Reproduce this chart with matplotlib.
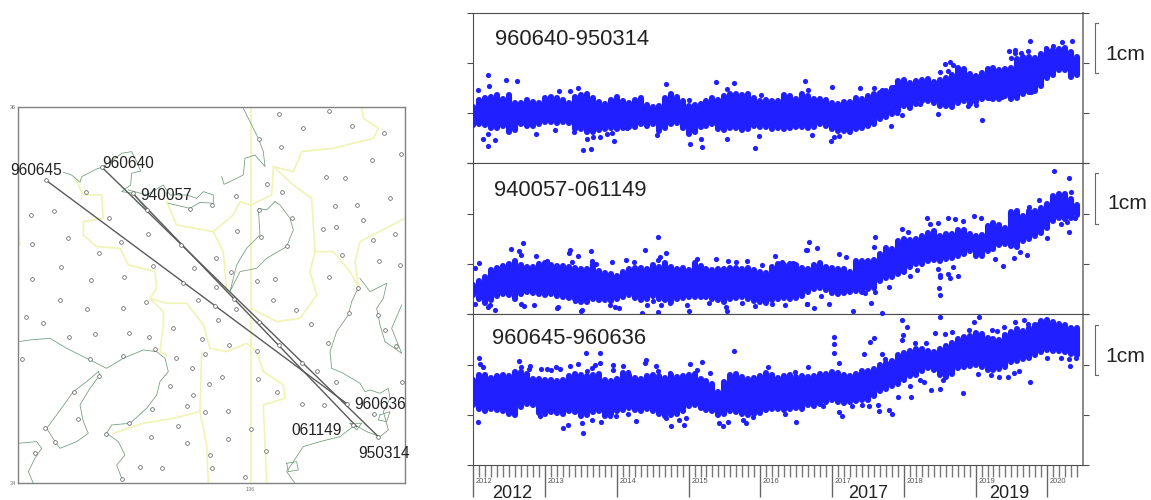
import numpy as np
import matplotlib
matplotlib.use('Agg')
import matplotlib.pyplot as plt

plt.rcParams['font.family'] = ['Liberation Sans', 'DejaVu Sans']

W = 1151
H = 500
BLUE = '#1f1fff'
DARK = '#222222'
AXC = '#4d4d4d'

# ---- time series: cm above the bottom of each panel
# one value per month from 2012.0, top and bottom of the dense band
top1 = [1.13,1.27,1.30,1.33,1.36,1.28,1.36,1.20,1.20,1.27,1.22,1.20,1.31,1.33,1.30,1.27,1.20,1.32,1.36,1.39,
        1.30,1.22,1.18,1.27,1.32,1.24,1.20,1.26,1.30,1.17,1.12,1.15,1.30,1.39,1.32,1.25,1.15,1.17,1.18,1.25,
        1.30,1.27,1.35,1.38,1.38,1.36,1.38,1.30,1.25,1.27,1.25,1.25,1.36,1.35,1.28,1.38,1.35,1.29,1.28,1.27,
        1.20,1.18,1.22,1.22,1.30,1.28,1.35,1.38,1.40,1.45,1.50,1.65,1.67,1.60,1.65,1.67,1.68,1.62,1.66,1.70,
        1.75,1.90,1.88,1.78,1.73,1.80,1.88,1.90,1.85,1.88,1.90,2.08,2.12,2.12,2.10,2.18,2.25,2.25,2.28,2.30,
        2.22,2.12]
bot1 = [.76,.78,.76,.70,.70,.74,.63,.66,.78,.74,.74,.78,.82,.83,.80,.83,.80,.68,.68,.62,
        .62,.66,.68,.70,.68,.70,.72,.72,.78,.75,.78,.64,.70,.78,.80,.70,.58,.62,.72,.74,
        .78,.68,.66,.70,.70,.66,.68,.75,.72,.72,.68,.70,.68,.70,.72,.72,.70,.72,.78,.75,
        .68,.65,.64,.62,.68,.70,.74,.78,.88,.92,.98,1.05,1.15,1.10,1.18,1.25,1.25,1.20,1.15,1.15,
        1.12,1.20,1.25,1.18,1.22,1.28,1.30,1.28,1.28,1.35,1.28,1.30,1.38,1.42,1.45,1.55,1.70,1.75,1.85,1.85,
        1.72,1.75]
top2 = [.58,.66,.75,.88,.93,.96,1.00,1.05,.98,.95,.95,1.00,1.01,.98,.97,.96,.95,.92,.90,.90,
        1.00,.86,.82,.80,.76,.84,.90,.92,.93,.90,.98,.95,1.02,.95,.90,.93,.88,1.02,.96,.90,
        .88,.90,.91,.93,.92,.90,.92,.88,.85,.82,.95,1.00,.98,1.00,.98,.92,.90,.98,1.01,.95,
        .92,.90,.90,.85,1.05,1.06,1.05,1.08,1.20,1.32,1.30,1.45,1.50,1.48,1.50,1.55,1.62,1.65,1.55,1.60,
        1.60,1.68,1.68,1.60,1.55,1.58,1.75,1.82,1.78,1.72,2.03,2.05,1.95,2.05,2.05,2.12,2.20,2.35,2.40,2.40,
        2.30,2.18]
bot2 = [.38,.30,.22,.28,.36,.40,.38,.30,.40,.45,.42,.40,.38,.40,.36,.35,.32,.30,.25,.24,
        .30,.28,.28,.26,.30,.34,.38,.32,.28,.30,.36,.30,.28,.25,.30,.33,.35,.34,.35,.35,
        .30,.28,.25,.30,.33,.35,.30,.26,.24,.22,.28,.30,.32,.30,.33,.36,.45,.50,.52,.48,
        .42,.40,.42,.45,.46,.44,.50,.52,.66,.72,.75,.80,.85,.95,1.00,1.00,1.05,1.08,1.06,1.10,
        1.12,1.15,1.20,1.25,1.15,1.15,1.25,1.30,1.38,1.40,1.36,1.34,1.45,1.50,1.55,1.62,1.72,1.85,1.92,1.90,
        1.92,1.97]
top3 = [1.70,1.80,1.80,1.74,1.78,1.80,1.78,1.85,1.86,1.82,1.72,1.72,1.70,1.70,1.68,1.70,1.78,1.82,1.80,1.78,
        1.80,1.82,1.70,1.68,1.72,1.84,1.80,1.74,1.72,1.78,1.80,1.78,1.74,1.80,1.76,1.78,1.80,1.82,1.72,1.68,
        1.62,1.46,1.66,1.80,1.82,1.76,1.72,1.74,1.78,1.84,1.80,1.74,1.78,1.80,1.76,1.78,1.76,1.78,1.82,1.82,
        1.86,1.84,1.80,1.78,1.82,1.88,1.88,1.92,2.00,2.04,2.08,2.18,2.22,2.26,2.30,2.30,2.26,2.24,2.30,2.36,
        2.42,2.50,2.54,2.56,2.62,2.60,2.52,2.50,2.48,2.58,2.64,2.70,2.66,2.72,2.78,2.86,2.88,2.85,2.80,2.78,
        2.72,2.72]
bot3 = [1.20,1.12,1.08,1.12,1.10,1.08,1.02,1.00,1.15,1.22,1.20,1.04,1.02,1.06,1.04,1.02,1.08,1.06,.98,1.00,
        1.06,1.08,.98,1.02,1.08,1.10,1.14,1.10,1.08,1.12,1.08,1.02,.98,1.00,1.02,1.08,1.18,1.20,1.14,1.10,
        1.08,1.00,1.02,1.08,1.06,1.02,1.00,1.02,1.04,1.10,1.12,1.12,1.10,1.12,1.14,1.12,1.20,1.18,1.22,1.26,
        1.30,1.25,1.24,1.26,1.28,1.30,1.30,1.38,1.48,1.52,1.58,1.62,1.70,1.78,1.80,1.88,1.94,1.90,1.80,1.76,
        1.82,1.94,1.96,1.98,2.00,1.96,1.90,1.90,1.92,1.96,2.06,2.08,2.12,2.14,2.18,2.24,2.28,2.26,2.26,2.24,
        2.20,2.19]

# single points that stick out of the band
out1_t = [2012.21,2012.22,2012.06,2012.46,2012.61,2013.19,2013.35,2013.46,2012.13,2012.20,2012.21,2012.30,2012.87,2013.14,
          2013.40,2013.53,2013.64,2013.58,2013.67,2013.77,2013.86,2013.96,2013.93,2014.69,2015.02,2015.18,2015.19,2015.53,
          2015.92,2015.98,2015.38,2015.54,2015.64,2015.01,2016.62,2016.67,2016.01,2014.56,2014.14,2017.00,2017.39,2017.59,
          2017.69,2017.86,2017.91,2016.72,2016.99,2017.09,2017.03,2017.82,2017.98,2018.47,2019.09,2018.51,2018.57,2018.64,
          2018.69,2018.61,2019.47,2019.55,2019.64,2019.73,2019.76,2019.49,2019.55,2019.98,2020.08,2020.21,2020.34,2019.77,
          2019.37,2018.89,2019.00,2019.19,2018.95,2018.22,2017.90,2017.41,2020.31]
out1_v = [1.75,1.54,1.46,1.66,1.65,1.44,1.45,1.51,.48,.35,.58,.46,.58,.66,
          .63,.27,.29,.48,.52,.52,.58,.44,.61,1.59,.38,.49,.33,.48,
          .31,.54,1.62,1.49,1.60,1.27,1.65,1.47,1.37,.56,.70,1.53,1.51,1.51,
          1.47,1.53,1.65,.56,.45,.54,.52,.75,.97,.98,.86,1.82,1.98,2.01,
          1.96,1.84,2.24,2.26,2.20,2.24,2.44,2.10,2.19,2.29,2.34,2.42,2.44,1.43,
          1.32,1.15,1.17,1.30,1.29,1.19,1.01,.73,1.78]

out2_t = [2012.53,2012.64,2012.69,2012.66,2012.08,2012.02,2012.88,2013.03,2013.33,2013.35,2013.46,2013.64,2013.65,2013.71,
          2013.38,2013.94,2014.13,2014.24,2014.39,2014.58,2014.68,2014.60,2014.58,2015.12,2015.38,2015.55,2015.66,2015.82,
          2016.02,2016.21,2016.30,2016.65,2016.68,2016.46,2012.02,2012.20,2012.30,2012.23,2012.66,2012.71,2012.84,2013.18,
          2013.16,2013.51,2013.50,2013.42,2013.91,2013.97,2014.03,2014.35,2014.50,2014.42,2014.58,2014.62,2014.74,2015.01,
          2014.98,2015.28,2015.53,2015.52,2015.74,2015.93,2016.16,2016.34,2016.65,2016.64,2016.79,2017.09,2017.20,2017.60,
          2017.58,2017.98,2018.06,2018.33,2018.36,2018.47,2018.62,2018.72,2018.82,2018.98,2019.07,2020.10,2020.30,2020.33,
          2019.75,2019.88,2016.65,2016.75,2016.96,2016.85,2017.54,2017.60,2017.46,2017.80,2017.97,2018.08,2018.19,2018.48,
          2018.50,2018.51,2018.49,2018.50,2018.62,2018.64,2018.75,2018.68,2019.38,2019.53,2019.27,2019.72,2019.62,2019.99,
          2020.30,2020.19,2020.27,2020.39]
out2_v = [1.30,1.26,1.42,1.18,1.01,.93,1.16,1.05,1.21,1.28,1.16,1.25,1.05,1.00,
          1.04,1.04,1.08,1.04,1.27,1.53,1.22,1.13,1.08,1.09,1.10,1.05,1.03,1.05,
          .98,1.16,1.03,1.28,1.44,1.01,.21,.15,.09,.19,.21,.17,.19,.15,
          .12,.09,.06,.26,.18,.14,.13,.02,.26,.19,.04,.19,.22,.07,
          .19,.22,.07,.15,.22,.17,.21,.18,.21,1.27,1.31,1.19,1.13,1.54,
          1.34,1.69,1.64,1.92,1.79,1.81,1.92,1.89,1.85,1.95,1.92,2.85,2.70,2.43,
          2.13,2.27,.21,.13,.21,.36,.23,.44,.42,.54,.88,.77,.89,.91,
          .78,.74,.52,.39,.81,.72,.77,.95,.96,1.11,1.09,1.18,1.23,1.51,
          1.63,1.79,1.83,1.91]

out3_t = [2012.08,2012.10,2012.13,2012.63,2012.66,2012.79,2012.77,2012.94,2013.03,2013.08,2013.15,2013.21,2013.35,2013.46,
          2013.57,2013.59,2013.65,2013.70,2013.76,2013.77,2013.95,2013.95,2014.08,2014.16,2014.41,2014.39,2014.54,2014.58,
          2014.74,2015.02,2015.12,2015.19,2015.30,2015.64,2016.11,2016.48,2016.67,2012.06,2013.25,2013.32,2013.51,2013.53,
          2013.65,2013.78,2013.91,2013.99,2014.15,2014.27,2014.69,2014.76,2014.86,2014.93,2014.97,2015.42,2015.48,2015.55,
          2015.76,2015.80,2016.34,2016.50,2015.90,2012.93,2017.03,2017.03,2017.03,2017.09,2017.45,2017.53,2017.59,2017.69,
          2017.74,2017.84,2017.98,2018.05,2017.99,2017.98,2018.16,2018.31,2018.43,2018.57,2018.67,2018.51,2019.05,2018.98,
          2018.91,2019.23,2019.30,2019.40,2019.55,2019.67,2019.73,2019.87,2017.29,2017.69,2017.09,2017.14,2016.88,2017.28,
          2017.42,2017.51,2017.65,2017.64,2017.80,2017.84,2017.92,2018.10,2018.08,2018.38,2018.51,2018.82,2018.22,2018.28,
          2018.55,2019.04,2019.22,2019.32,2019.45,2019.54,2019.61,2019.76,2020.00,2020.19,2020.30,2020.31,2020.40]
out3_v = [2.13,2.01,1.96,2.07,1.96,1.98,1.91,1.92,1.91,1.89,1.95,1.92,1.97,2.02,
          2.23,1.87,1.93,1.99,2.04,2.22,1.99,1.89,1.97,1.86,2.09,2.04,1.98,1.87,
          1.84,2.01,1.89,2.06,1.84,2.26,1.96,1.85,1.96,.86,.74,.80,.83,.63,
          .89,.86,.98,.97,1.01,.87,.93,.77,.89,.79,.93,.83,.78,.86,
          .90,.83,1.01,.85,.95,.97,2.54,2.41,2.23,2.04,2.21,2.44,2.52,2.21,
          2.11,2.08,2.89,2.74,2.59,2.48,2.42,2.42,2.62,2.61,2.64,2.95,2.94,2.84,
          2.69,2.69,2.67,2.74,2.85,2.89,2.81,2.80,3.07,3.03,1.05,.98,1.17,1.18,
          1.19,1.17,1.08,1.20,1.10,1.02,1.36,1.36,1.58,1.49,1.51,1.44,1.70,1.66,
          1.70,1.81,1.79,1.75,1.75,1.83,1.88,1.66,2.14,2.13,2.11,1.97,2.14]

pair_names = ['960640-950314', '940057-061149', '960645-960636']
years = [2012, 2013, 2014, 2015, 2016, 2017, 2018, 2019, 2020]
big_years = [2012, 2017, 2019]
big_year_pos = [2012.26, 2017.22, 2019.19]

# ---- map in map units
station_x = [838,987,908,1056,1153,844,777,1204,1115,979,1036,801,845,708,1169,257,162,94,327,636,571,441,1005,1071,777,875,
             1089,970,1007,711,445,1184,204,97,363,782,1118,543,860,297,647,1027,1137,1200,182,458,581,692,96,274,372,549,
             771,826,986,647,1075,179,439,595,703,262,370,645,708,819,888,1048,1135,77,129,653,777,933,520,1154,286,387,
             208,447,606,688,838,984,1187,464,770,615,65,270,368,529,905,950,575,1008,297,667,775,1207,511,627,223,831,
             579,907,971,1042,457,560,615,683,1122,233,388,534,753,1060,318,454,684,135,165,561,105,797,631,421,486,636,
             735,365,1135,137,306,398]
station_y = [57,47,100,93,114,156,131,177,194,247,249,266,291,304,309,292,347,359,368,329,343,345,333,330,344,369,
             376,403,397,407,416,418,429,446,441,425,436,450,453,473,489,479,499,511,515,514,518,530,553,555,547,563,
             558,553,546,577,578,616,620,614,612,643,638,633,641,615,644,655,660,665,683,674,680,688,698,706,716,713,
             727,725,733,750,751,743,752,762,768,776,792,793,783,788,804,829,820,862,843,846,851,860,873,867,891,890,
             900,926,930,927,941,932,950,947,957,972,983,993,1002,990,1017,1025,1031,1000,1042,1043,1073,1068,1080,1115,1120,1120,
             1146,1153,1025,255,217,295]

coast_lines = [
    [(190,232),(215,240),(240,262),(245,245),(265,235),(290,222),(306,217),(340,195),(365,175),(395,170),(410,200),(422,228),(395,235),(392,270),(365,290),(400,295),(440,345)],
    [(385,285),(440,300),(465,285),(490,270),(510,300),(560,300),(590,310),(610,290),(640,300),(640,325),(600,322),(570,340),(505,325)],
    [(665,245),(672,268),(690,260),(730,240),(735,190),(765,180),(795,215),(790,170),(775,130),(750,80),(730,40)],
    [(825,320),(800,345),(775,340),(780,420),(740,460),(710,510),(690,590),(720,530),(770,520),(800,490),(860,455),(880,405),(870,370),(840,330),(825,320)],
    [(55,740),(90,735),(150,730),(200,760),(270,795),(320,820),(370,790),(430,765),(470,770),(495,790),(505,830),(480,860),(470,900),(440,940),(390,985),(335,990),(320,1015),(355,1040),(375,1080),(350,1110),(365,1150)],
    [(295,830),(260,860),(220,890),(170,960),(140,1000),(165,1040),(180,1060),(230,1040),(265,1015),(250,980),(240,930),(270,880),(300,840),(295,830)],
    [(55,1045),(110,1040),(125,1060),(105,1090),(85,1130),(100,1165)],
    [(1075,578),(1055,620),(1045,660),(1010,710),(990,770),(995,820),(1030,835),(1080,865),(1095,890),(1110,885),(1140,895),(1165,880),(1170,910),(1150,950),(1165,1005),(1140,1025),(1100,1010),(1065,990),(1020,1025),(960,1040),(910,1055),(880,1100),(860,1130),(885,1165)],
    [(1080,550),(1110,590),(1160,565),(1150,610),(1130,640),(1140,690),(1155,740),(1205,775),(1175,700),(1205,630)],
    [(1140,960),(1170,950),(1160,980),(1135,975),(1140,960)],
    [(1050,985),(1085,985),(1070,1005),(1050,985)],
    [(860,1105),(890,1100),(895,1125),(865,1130),(860,1105)],
]
border_lines = [
    [(752,37),(752,1165)],
    [(55,400),(60,450)],
    [(225,250),(250,300),(305,300),(310,370),(250,380),(250,420),(290,455),(360,460),(385,510),(465,530),(470,580),(450,610),(490,650),(490,690),(480,770),(500,780)],
    [(450,610),(500,625),(560,625),(610,690),(630,760),(680,770),(740,745),(770,770),(790,830),(850,870),(855,910),(790,930),(800,1160)],
    [(605,770),(600,950),(620,1050),(625,1165)],
    [(340,1015),(430,985),(520,970),(600,950)],
    [(500,320),(530,390),(640,410),(700,360),(720,320),(752,330),(815,300),(820,215),(880,230),(905,170),(1000,160),(1120,130),(1135,100),(1090,70),(1085,37)],
    [(640,410),(670,470),(680,590)],
    [(820,215),(880,270),(935,310),(945,470),(1000,470),(1050,530),(1075,575),(1065,500),(1080,440),(1215,370)],
    [(945,470),(930,530),(950,600),(900,670),(830,680),(752,640)],
]
baselines = [[(137,255),(1042,927)], [(306,217),(1135,1025)], [(398,295),(1070,995)]]
station_names = ['960645', '960640', '940057', '960636', '061149', '950314']
name_x = [30, 307, 422, 1062, 873, 1075]
name_y = [240, 218, 316, 942, 1020, 1088]


def px_axes(left, top, right, bottom):
    return fig.add_axes([left / W, 1 - bottom / H, (right - left) / W, (bottom - top) / H])


fig = plt.figure(figsize=(W / 100, H / 100), dpi=100)

# map on the left
m = px_axes(18.3, 107.3, 405, 483.3)
m.set_xlim(55, 1215)
m.set_ylim(1165, 37)
m.set_xticks([])
m.set_yticks([])
for s in m.spines.values():
    s.set_color('#808080')
    s.set_linewidth(1)
for line in border_lines:
    xs, ys = zip(*line)
    m.plot(xs, ys, color='#f1f3b4', lw=1.2, zorder=1)
for line in coast_lines:
    xs, ys = zip(*line)
    m.plot(xs, ys, color='#6f9a78', lw=0.55, zorder=2)
for line in baselines:
    xs, ys = zip(*line)
    m.plot(xs, ys, color='#5a5a5a', lw=1.0, zorder=3)
m.scatter(station_x, station_y, s=7, facecolors='white', edgecolors='#555555', linewidths=0.5, zorder=4)
for name, x, y in zip(station_names, name_x, name_y):
    m.text(x, y, name, fontsize=11.2, color=DARK, va='baseline', ha='left', zorder=5, clip_on=False)
m.text(-0.006, 1.0, '36', transform=m.transAxes, fontsize=4, color='#777777', ha='right', va='center')
m.text(-0.006, 0.0, '34', transform=m.transAxes, fontsize=4, color='#777777', ha='right', va='center')
m.text(752, 1185, '136', fontsize=4, color='#777777', ha='center', va='center')

# three stacked time series
panel_px = [(12.7, 163.4), (163.4, 314.3), (314.3, 465)]
tops = [top1, top2, top3]
bots = [bot1, bot2, bot3]
outs = [(out1_t, out1_v), (out2_t, out2_v), (out3_t, out3_v)]
months = 2012 + np.arange(len(top1)) / 12
label_pos = [(495, 45), (494, 196), (492, 344)]
bracket_px = [(23, 73), (173, 224), (325, 375)]
cm_pos = [(1105, 60), (1107, 209), (1105, 362)]

axes = []
for i in range(3):
    ax = px_axes(473.3, panel_px[i][0], 1083.3, panel_px[i][1])
    ax.set_xlim(2012, 2012 + (1083.3 - 473.3) / 71.75)
    ax.set_ylim(0, 3)
    ax.vlines(months, bots[i], tops[i], colors=BLUE, linewidths=4.4, capstyle='round', zorder=3)
    ax.scatter(outs[i][0], outs[i][1], s=14, color=BLUE, linewidths=0, zorder=3, clip_on=False)

    ax.set_yticks([0, 1, 2, 3])
    ax.set_yticklabels([])
    ax.tick_params(axis='y', which='major', left=True, right=True, length=4, width=0.8, color=AXC)
    ax.set_xticks([])
    ax.spines['left'].set_color(AXC)
    ax.spines['top'].set_color(AXC)
    ax.spines['bottom'].set_color(AXC)
    ax.spines['right'].set_color('#808080')
    ax.spines['right'].set_linewidth(1.3)

    fig.text(label_pos[i][0] / W, 1 - label_pos[i][1] / H, pair_names[i], fontsize=15.8, color=DARK, va='baseline')
    fig.text(cm_pos[i][0] / W, 1 - cm_pos[i][1] / H, '1cm', fontsize=15.2, color=DARK, va='baseline')
    b0, b1 = bracket_px[i]
    fig.add_artist(plt.Line2D([1098 / W, 1094.5 / W, 1094.5 / W, 1098 / W],
                              [1 - b0 / H, 1 - b0 / H, 1 - b1 / H, 1 - b1 / H], color='#666666', lw=0.8))
    axes.append(ax)

# month ruler under the last panel
ax = axes[2]
ax.set_xticks(years)
ax.set_xticks(months, minor=True)
ax.set_xticklabels([])
ax.tick_params(axis='x', which='major', bottom=True, length=23, width=1, color='#666666')
ax.tick_params(axis='x', which='minor', bottom=True, length=8.6, width=1, color='#777777')
for yr in years:
    ax.annotate(str(yr), xy=(yr, 0), xytext=(2, -13), textcoords='offset points', annotation_clip=False,
                fontsize=5.4, color='#555555', ha='left', va='baseline')
for yr, pos in zip(big_years, big_year_pos):
    ax.annotate(str(yr), xy=(pos, 0), xytext=(0, -24), textcoords='offset points', annotation_clip=False,
                fontsize=13, color=DARK, ha='left', va='baseline')

fig.savefig('out.png', dpi=100)
